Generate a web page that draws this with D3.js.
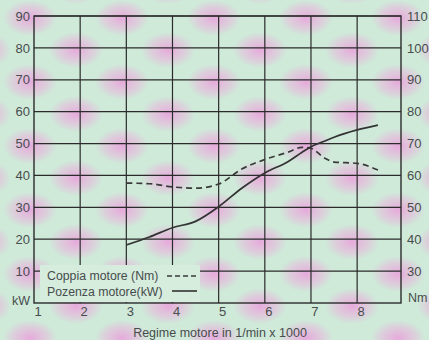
<!DOCTYPE html>
<html><head><meta charset="utf-8">
<script src="https://cdn.jsdelivr.net/npm/d3@7"></script>
<style>
html,body{margin:0;padding:0;background:#d3eadb;}
svg{display:block;font-family:"Liberation Sans",Arial,sans-serif;}
</style></head>
<body>
<svg id="c" width="429" height="340"></svg>
<script>
// ---- data ----
const rpm = [3, 3.5, 4, 4.5, 5, 5.5, 6, 6.5, 6.8, 7, 7.3, 7.5, 8, 8.45];
const coppiaNm = [57.6, 57.4, 56.4, 56.0, 57.3, 62.0, 65.0, 67.3, 68.8, 68.5, 65.4, 64.2, 63.8, 61.7];
const potenzaKW = [18.2, 20.7, 23.6, 25.6, 30.2, 36.0, 40.8, 44.3, 47.2, 49.0, 50.8, 52.0, 54.3, 55.8];
const xTicks = [1, 2, 3, 4, 5, 6, 7, 8];
const kwTicks = [10, 20, 30, 40, 50, 60, 70, 80, 90];
const nmTicks = [30, 40, 50, 60, 70, 80, 90, 100, 110];
const legendLabels = ["Coppia motore (Nm)", "Pozenza motore(kW)"];
const xTitle = "Regime motore in 1/min x 1000";

const svg = d3.select("#c");
const L = 34, R = 401, T = 16, B = 303;
const x = d3.scaleLinear().domain([1, 8.95]).range([L, R]);
const yL = d3.scaleLinear().domain([0, 90]).range([B, T]);
const yR = d3.scaleLinear().domain([20, 110]).range([B, T]);

// background texture (decorative moire)
const defs = svg.append("defs");
const rg = defs.append("radialGradient").attr("id", "blob");
rg.append("stop").attr("offset", "0%").attr("stop-color", "#e9a2dc").attr("stop-opacity", 0.9);
rg.append("stop").attr("offset", "60%").attr("stop-color", "#eab0dd").attr("stop-opacity", 0.5);
rg.append("stop").attr("offset", "100%").attr("stop-color", "#eab0dd").attr("stop-opacity", 0);
const pat = defs.append("pattern").attr("id", "moire").attr("patternUnits", "userSpaceOnUse")
  .attr("width", 92).attr("height", 64).attr("x", 10).attr("y", 2);
pat.append("rect").attr("width", 92).attr("height", 64).attr("fill", "#cfead9");
[[20, 16], [66, 48], [112, 16], [-26, 48], [66, -16], [20, 80]].forEach(p => {
  pat.append("ellipse").attr("cx", p[0]).attr("cy", p[1]).attr("rx", 27).attr("ry", 18).attr("fill", "url(#blob)");
});
svg.append("rect").attr("width", 429).attr("height", 340).attr("fill", "url(#moire)");

const ink = "#2b2b2b";
const txt = "#474d4d";

// grid
const g = svg.append("g");
g.selectAll(".hg").data(kwTicks).join("line")
  .attr("x1", L).attr("x2", R).attr("y1", d => yL(d)).attr("y2", d => yL(d))
  .attr("stroke", ink).attr("stroke-width", 1.2);
g.selectAll(".vg").data(xTicks.slice(1)).join("line")
  .attr("x1", d => x(d)).attr("x2", d => x(d)).attr("y1", T).attr("y2", B)
  .attr("stroke", ink).attr("stroke-width", 1.2);

// legend box (covers grid)
svg.append("rect").attr("x", 40).attr("y", 265).attr("width", 160).attr("height", 37)
  .attr("fill", "#d6ecdd");

// frame
svg.append("rect").attr("x", L).attr("y", T).attr("width", R - L).attr("height", B - T)
  .attr("fill", "none").attr("stroke", ink).attr("stroke-width", 1.4);

// axes labels
const yAxisL = d3.axisLeft(yL).tickValues(kwTicks).tickSize(0).tickPadding(4);
const gl = svg.append("g").attr("transform", `translate(${L},0)`).call(yAxisL);
const yAxisR = d3.axisRight(yR).tickValues(nmTicks).tickSize(0).tickPadding(6);
const gr = svg.append("g").attr("transform", `translate(${R},0)`).call(yAxisR);
const xAxis = d3.axisBottom(x).tickValues(xTicks).tickSize(0).tickPadding(4);
const gx = svg.append("g").attr("transform", `translate(0,${B})`).call(xAxis);
[gl, gr, gx].forEach(a => {
  a.select(".domain").remove();
  a.selectAll("text").attr("fill", txt).style("font-size", "13px")
    .style("font-family", "'Liberation Sans', Arial, sans-serif");
});
gx.selectAll(".tick").attr("transform", d => `translate(${x(d) + 4},0)`);
gl.selectAll("text").attr("x", -4);

svg.append("text").attr("x", 30).attr("y", 305).attr("text-anchor", "end")
  .attr("fill", txt).style("font-size", "12.5px").text("kW");
svg.append("text").attr("x", 408).attr("y", 302)
  .attr("fill", txt).style("font-size", "12.5px").text("Nm");

// x title
svg.append("text").attr("x", 220).attr("y", 337).attr("text-anchor", "middle")
  .attr("fill", txt).style("font-size", "12.5px").text(xTitle);

// curves
const lineNm = d3.line().x((d, i) => x(rpm[i])).y(d => yR(d)).curve(d3.curveMonotoneX);
const lineKW = d3.line().x((d, i) => x(rpm[i])).y(d => yL(d)).curve(d3.curveMonotoneX);
svg.append("path").attr("d", lineNm(coppiaNm)).attr("fill", "none")
  .attr("stroke", "#3a3a3a").attr("stroke-width", 1.7).attr("stroke-dasharray", "6,4");
svg.append("path").attr("d", lineKW(potenzaKW)).attr("fill", "none")
  .attr("stroke", "#333").attr("stroke-width", 1.7);

// legend
const lg = svg.append("g");
lg.append("text").attr("x", 47).attr("y", 280).attr("fill", txt).style("font-size", "12.3px").text(legendLabels[0]);
lg.append("text").attr("x", 47).attr("y", 296).attr("fill", txt).style("font-size", "12.3px").text(legendLabels[1]);
lg.append("line").attr("x1", 167).attr("x2", 197).attr("y1", 276).attr("y2", 276)
  .attr("stroke", "#3a3a3a").attr("stroke-width", 1.6).attr("stroke-dasharray", "5,3");
lg.append("line").attr("x1", 172).attr("x2", 197).attr("y1", 291).attr("y2", 291)
  .attr("stroke", "#333").attr("stroke-width", 1.6);
</script>
</body></html>
